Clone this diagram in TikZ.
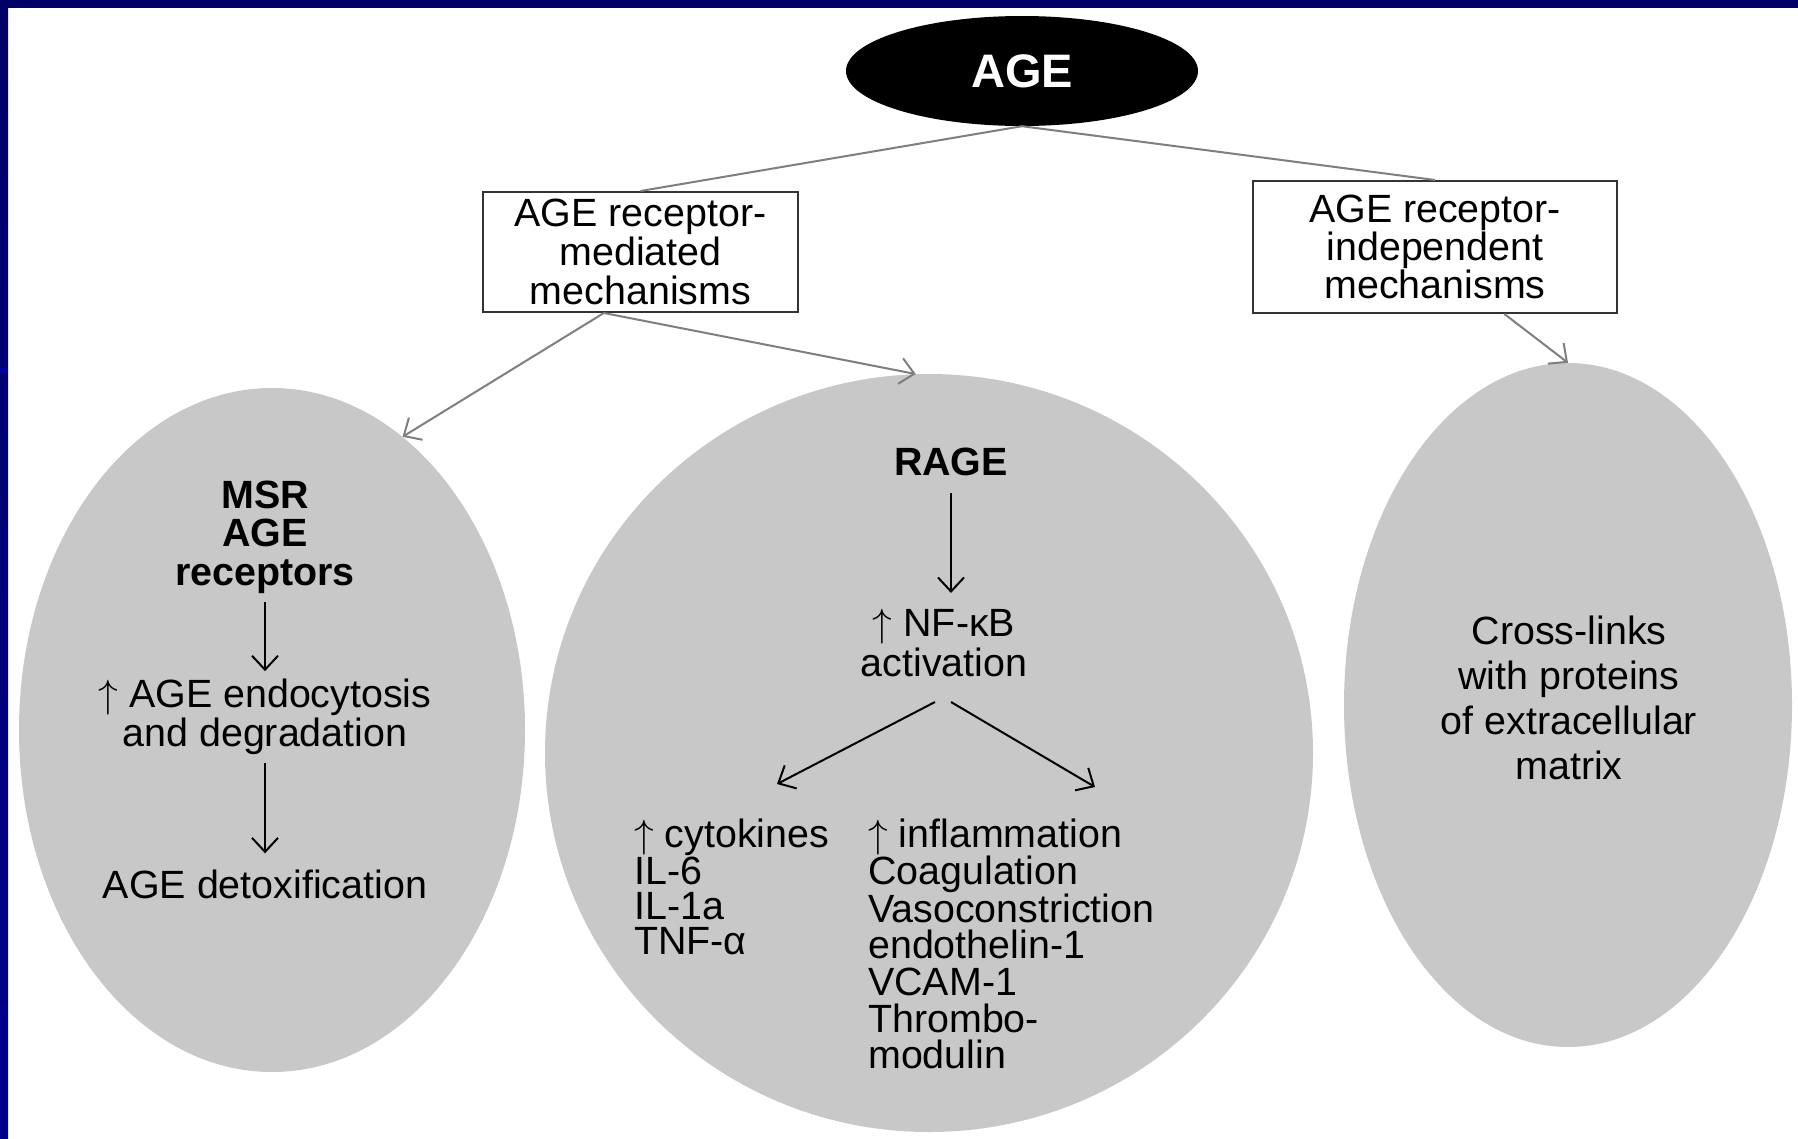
\documentclass[tikz,border=0pt]{standalone}
\usepackage{fix-cm}
\usepackage{fontspec}
\setmainfont{Liberation Sans}
\usetikzlibrary{arrows.meta,shapes.geometric}

\definecolor{navyband}{HTML}{000066}
\definecolor{navylow}{HTML}{00008C}
\definecolor{blobgray}{HTML}{C8C8C8}
\definecolor{linkgray}{HTML}{7F7F7F}
\definecolor{boxline}{HTML}{333333}

\newcommand{\upar}{$\uparrow$}

\begin{document}
\begin{tikzpicture}[x=1pt,y=-1pt,
	every node/.style={font=\fontsize{39.4}{38.5}\selectfont},
	blob/.style={shape=ellipse,fill=blobgray,inner sep=0pt},
	mech/.style={shape=rectangle,draw=boxline,line width=2pt,fill=white,align=center,inner sep=0pt},
	txt/.style={align=center,inner sep=8pt},
	boldtxt/.style={txt,font=\fontsize{39.4}{38.5}\selectfont\bfseries},
	link/.style={color=linkgray,line width=2pt},
	flow/.style={-{Straight Barb[length=14pt,width=26pt]},color=linkgray,line width=2pt},
	inner/.style={-{Straight Barb[length=14pt,width=26pt]},color=black,line width=2pt}]

	% slide frame
	\useasboundingbox (0,0) rectangle (1798,1138);
	\fill[white] (0,0) rectangle (1798,1138);
	\fill[navyband] (0,0) rectangle (1798,8);
	\shade[top color=navyband,bottom color=navylow] (0,0) rectangle (8,1138);
	\fill[blue!70!black] (0,369) rectangle (8,373);

	\node[shape=ellipse,fill=black,minimum width=352pt,minimum height=110pt,inner sep=0pt,text=white,font=\fontsize{47}{50}\selectfont\bfseries] (age) at (1022,71) {AGE};

	\node[mech,minimum width=315pt,minimum height=120pt,font=\fontsize{39.4}{39}\selectfont] (box1) at (640.5,252) {AGE receptor-\\mediated\\mechanisms};
	\node[mech,minimum width=364pt,minimum height=132pt,font=\fontsize{39.4}{38}\selectfont] (box2) at (1435,247) {AGE receptor-\\independent\\mechanisms};

	\node[blob,minimum width=506pt,minimum height=684pt] (msrblob) at (272,730) {};
	\node[blob,minimum width=768pt,minimum height=758pt] (rageblob) at (929,753) {};
	\node[blob,minimum width=448pt,minimum height=684pt] (crossblob) at (1568,705) {};

	% left
	\node[boldtxt] (msr) at (265,537) {MSR\\AGE\\receptors};
	\node[txt] (endo) at (265,717) {\upar\ AGE endocytosis\\and degradation};
	\node[txt] (detox) at (265,884) {AGE detoxification};

	% middle
	\node[boldtxt] (rage) at (951,462) {RAGE};
	\node[txt,font=\fontsize{39.4}{40}\selectfont] (nfkb) at (944,643) {\upar\ NF-κB\\activation};
	\node[txt,align=left,anchor=north west,font=\fontsize{39.4}{35.2}\selectfont] (cyto) at (626,811) {\upar\ cytokines\\IL-6\\IL-1a\\TNF-α};
	\node[txt,align=left,anchor=north west,font=\fontsize{39.4}{36.7}\selectfont] (infl) at (860,811) {\upar\ inflammation\\Coagulation\\Vasoconstriction\\endothelin-1\\VCAM-1\\Thrombo-\\modulin};

	% right
	\node[txt,font=\fontsize{39.4}{45}\selectfont] (xlink) at (1569,698) {Cross-links\\with proteins\\of extracellular\\matrix};

	\path[link] (age.south) edge (box1.north);
	\path[link] (age.south) edge (box2.north);

	\path[flow] (box1.-121) edge (msrblob.66.6);
	\path[flow] (box1.-121) edge (rageblob.92);
	\path[flow] (box2.-44.6) edge (crossblob.north);

	\path[inner] (msr.south) edge (endo.north);
	\path[inner,shorten >=8pt] (endo.south) edge (detox.north);

	\path[inner,shorten <=9pt,shorten >=8pt] (rage.south) edge (rage.south |- nfkb.north);
	\path[inner] ([shift={(-9,59)}]nfkb.center) edge ([shift={(151,-27)}]cyto.north west);
	\path[inner] ([shift={(7,59)}]nfkb.center) edge ([shift={(235,-24)}]infl.north west);

\end{tikzpicture}
\end{document}
